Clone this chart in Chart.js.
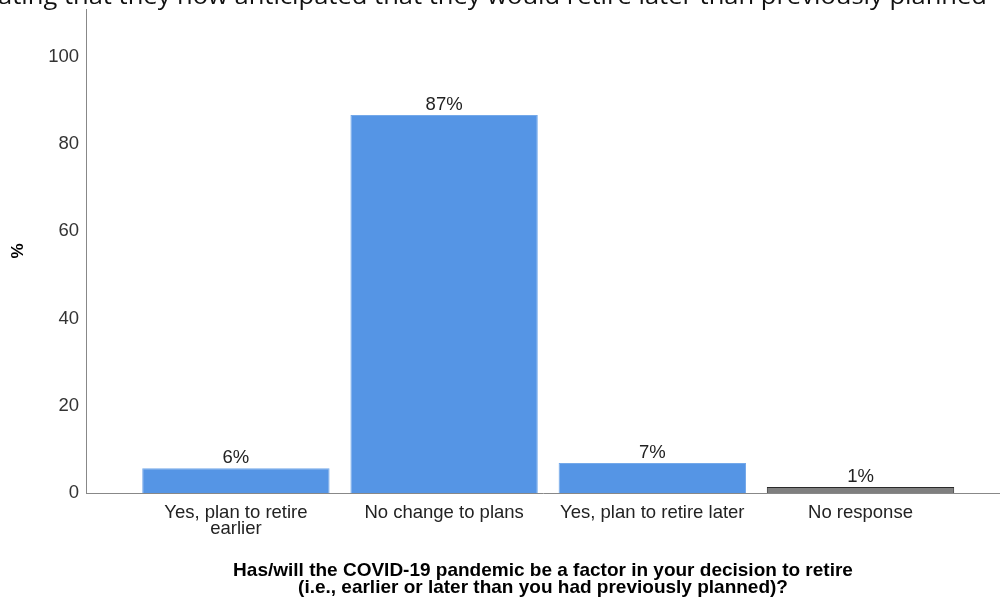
<!DOCTYPE html>
<html>
<head>
<meta charset="utf-8">
<script src="https://cdn.jsdelivr.net/npm/chart.js"></script>
<style>
  html, body { margin: 0; padding: 0; background: #fff; overflow: hidden; }
  #wrap { position: relative; width: 1000px; height: 601px; overflow: hidden; }
  #caption {
    position: absolute; left: -2px; top: -21px; white-space: nowrap;
    font-family: "Open Sans", Lato, sans-serif; font-size: 23px; color: #111;
    transform-origin: 0 0;
  }
  canvas { position: absolute; left: 0; top: 0; }
</style>
</head>
<body>
<div id="wrap">
  <canvas id="myChart" width="1000" height="601"></canvas>
  <div id="caption">ating that they now anticipated that they would retire later than previously planned</div>
</div>
<script>
// Data
const categories = [
    ['Yes, plan to retire', 'earlier'],
    'No change to plans',
    'Yes, plan to retire later',
    'No response'
];
const percents = [5.7, 86.7, 6.9, 1.4];
const valueLabels = ['6%', '87%', '7%', '1%'];
const yTicks = [0, 20, 40, 60, 80, 100];

const barColors = ['#5595e5', '#5595e5', '#5595e5', '#7f7f7f'];
const barBorders = ['#74a9ea', '#74a9ea', '#74a9ea', '#2a2a2a'];

const FONT = '"Liberation Sans", Arial, sans-serif';

// squeeze the clipped caption line to the width it has in the picture
const cap = document.getElementById('caption');
cap.style.transform = 'scaleX(' + (989 / cap.offsetWidth) + ')';

// Draw the percent labels above each bar
const valueLabelPlugin = {
    id: 'valueLabels',
    afterDatasetsDraw(chart) {
        const ctx = chart.ctx;
        const meta = chart.getDatasetMeta(0);
        ctx.save();
        ctx.font = '18.5px ' + FONT;
        ctx.fillStyle = '#222';
        ctx.textAlign = 'center';
        ctx.textBaseline = 'bottom';
        meta.data.forEach((bar, i) => {
            ctx.fillText(valueLabels[i], bar.x, bar.y - 1);
        });
        ctx.restore();
    }
};

const ctx = document.getElementById('myChart').getContext('2d');
new Chart(ctx, {
    type: 'bar',
    data: {
        datasets: [{
            data: percents.map((v, i) => ({ x: i, y: v })),
            backgroundColor: barColors,
            borderColor: barBorders,
            borderWidth: 1,
            barPercentage: 0.9,
            categoryPercentage: 1
        }]
    },
    options: {
        responsive: false,
        animation: false,
        layout: { padding: { top: 9, right: 0, left: 0, bottom: 0 } },
        plugins: {
            legend: { display: false },
            tooltip: { enabled: false }
        },
        scales: {
            x: {
                type: 'linear',
                offset: false,
                min: -0.72,
                max: 3.67,
                grid: { display: false, drawTicks: false },
                border: { color: '#888', width: 1 },
                afterBuildTicks: (scale) => {
                    scale.ticks = categories.map((c, i) => ({ value: i }));
                },
                afterFit: (scale) => {
                    scale.height = 108;
                    scale.paddingLeft = 0;
                    scale.paddingRight = 0;
                },
                ticks: {
                    autoSkip: false,
                    maxRotation: 0,
                    padding: 12,
                    color: '#222',
                    font: { family: FONT, size: 18.5, lineHeight: 0.87 },
                    callback: (value) => categories[value]
                },
                title: {
                    display: true,
                    text: ['Has/will the COVID-19 pandemic be a factor in your decision to retire',
                           '(i.e., earlier or later than you had previously planned)?'],
                    color: '#000',
                    font: { family: FONT, size: 19, weight: 'bold', lineHeight: 0.88 },
                    padding: { top: 4, bottom: 5 }
                }
            },
            y: {
                min: 0,
                max: 111,
                grid: { display: false, drawTicks: false },
                border: { color: '#888', width: 1 },
                afterBuildTicks: (scale) => {
                    scale.ticks = yTicks.map(v => ({ value: v }));
                },
                afterFit: (scale) => {
                    scale.width = 86;
                    scale.paddingTop = 0;
                    scale.paddingBottom = 0;
                },
                ticks: {
                    padding: 7,
                    color: '#333',
                    font: { family: FONT, size: 18.5 }
                },
                title: {
                    display: true,
                    text: '%',
                    color: '#000',
                    font: { family: FONT, size: 17, weight: 'bold' },
                    padding: { bottom: 0, top: 8 }
                }
            }
        }
    },
    plugins: [valueLabelPlugin]
});
</script>
</body>
</html>
